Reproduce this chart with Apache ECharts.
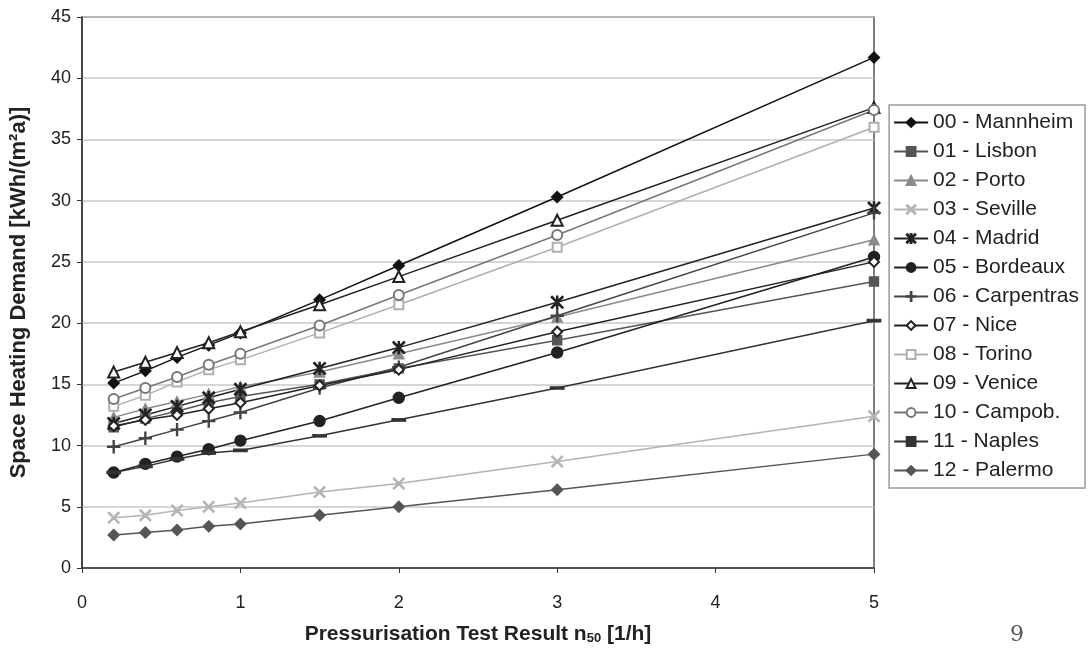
<!DOCTYPE html>
<html>
<head>
<meta charset="utf-8" />
<script src="https://cdn.jsdelivr.net/npm/echarts@6/dist/echarts.min.js"></script>
<style>
  html, body { margin: 0; padding: 0; background: #ffffff; }
  #chart { width: 1089px; height: 651px; }
</style>
</head>
<body>
<div id="chart"></div>
<script>
// n50 values (x)
const n50 = [0.2, 0.4, 0.6, 0.8, 1, 1.5, 2, 3, 5];

// space heating demand per city, kWh/(m²a)
const mannheim   = [15.1, 16.1, 17.2, 18.2, 19.2, 21.9, 24.7, 30.3, 41.7];
const lisbon     = [11.5, 12.2, 12.8, 13.5, 14.0, 15.0, 16.3, 18.6, 23.4];
const porto      = [12.3, 13.0, 13.6, 14.2, 14.8, 16.0, 17.5, 20.5, 26.8];
const seville    = [4.1, 4.3, 4.7, 5.0, 5.3, 6.2, 6.9, 8.7, 12.4];
const madrid     = [11.8, 12.5, 13.2, 13.9, 14.6, 16.3, 18.0, 21.7, 29.4];
const bordeaux   = [7.8, 8.5, 9.1, 9.7, 10.4, 12.0, 13.9, 17.6, 25.4];
const carpentras = [9.9, 10.6, 11.3, 12.0, 12.7, 14.7, 16.4, 20.6, 29.0];
const nice       = [11.6, 12.1, 12.5, 13.0, 13.5, 14.9, 16.2, 19.3, 25.0];
const torino     = [13.2, 14.1, 15.2, 16.2, 17.0, 19.2, 21.5, 26.2, 36.0];
const venice     = [16.0, 16.8, 17.6, 18.4, 19.3, 21.5, 23.8, 28.4, 37.6];
const campob     = [13.8, 14.7, 15.6, 16.6, 17.5, 19.8, 22.3, 27.2, 37.4];
const naples     = [7.8, 8.3, 8.9, 9.4, 9.6, 10.8, 12.1, 14.7, 20.2];
const palermo    = [2.7, 2.9, 3.1, 3.4, 3.6, 4.3, 5.0, 6.4, 9.3];

const yTicks = [0, 5, 10, 15, 20, 25, 30, 35, 40, 45];

// marker shapes
const xMark = "path://M0,1.5L1.5,0L10,8.5L18.5,0L20,1.5L11.5,10L20,18.5L18.5,20L10,11.5L1.5,20L0,18.5L8.5,10Z";
const starMark = xMark.replace("Z", "ZM9,0H11V20H9Z");
const plusMark = "path://M9.2,0H10.8V9.2H20V10.8H10.8V20H9.2V10.8H0V9.2H9.2Z";
const dashMark = "path://M0,0H10V3H0Z";

const mk = (name, data, color, symbol, size) => ({
  name,
  type: "line",
  data: data.map((v, i) => [n50[i], v]),
  symbol,
  symbolSize: size,
  showAllSymbol: true,
  lineStyle: { color, width: 1.5 },
  itemStyle: { color, borderColor: color, borderWidth: 1.4 },
  emphasis: { disabled: true },
  z: 2,
});

const series = [
  mk("00 - Mannheim", mannheim, "#111111", "diamond", 11),
  mk("01 - Lisbon", lisbon, "#555555", "rect", 9),
  mk("02 - Porto", porto, "#8a8a8a", "triangle", 10),
  mk("03 - Seville", seville, "#b4b4b4", xMark, 11),
  mk("04 - Madrid", madrid, "#222222", starMark, 12),
  mk("05 - Bordeaux", bordeaux, "#222222", "circle", 11),
  mk("06 - Carpentras", carpentras, "#444444", plusMark, 12),
  mk("07 - Nice", nice, "#222222", "emptyDiamond", 10),
  mk("08 - Torino", torino, "#b0b0b0", "emptyRect", 9),
  mk("09 - Venice", venice, "#222222", "emptyTriangle", 11),
  mk("10 - Campob.", campob, "#777777", "emptyCircle", 10),
  mk("11 - Naples", naples, "#333333", dashMark, [12, 3]),
  mk("12 - Palermo", palermo, "#555555", "diamond", 11),
];

const chart = echarts.init(document.getElementById("chart"));
chart.setOption({
  animation: false,
  backgroundColor: "#ffffff",
  textStyle: { fontFamily: "Liberation Sans, Arial, sans-serif" },
  grid: {
    left: 80, right: 215, top: 17, bottom: 83,
    show: true, borderColor: "#555555", borderWidth: 1.5,
  },
  legend: {
    orient: "vertical",
    right: 4,
    top: 105,
    padding: [7, 6, 7, 4],
    itemGap: 8,
    itemWidth: 34,
    itemHeight: 11,
    borderColor: "#999999",
    borderWidth: 1.5,
    backgroundColor: "#ffffff",
    textStyle: { fontSize: 21, color: "#222222", fontFamily: "Liberation Sans, Arial, sans-serif" },
    data: series.map((s) => s.name),
  },
  xAxis: {
    type: "value",
    min: 0,
    max: 5,
    interval: 1,
    name: "Pressurisation Test Result n{sub|50} [1/h]",
    nameLocation: "middle",
    nameGap: 55,
    nameTextStyle: {
      fontSize: 21, fontWeight: "bold", color: "#222222",
      rich: { sub: { fontSize: 13, fontWeight: "bold", verticalAlign: "bottom", padding: [9, 0, 0, 0] } },
    },
    axisLine: { lineStyle: { color: "#333333", width: 1.5 } },
    axisTick: { show: true, length: 5, lineStyle: { color: "#333333" } },
    axisLabel: { fontSize: 18, color: "#222222", margin: 26 },
    splitLine: { show: false },
  },
  yAxis: {
    type: "value",
    min: yTicks[0],
    max: yTicks[yTicks.length - 1],
    interval: 5,
    name: "Space Heating Demand [kWh/(m²a)]",
    nameLocation: "middle",
    nameGap: 52,
    nameTextStyle: { fontSize: 22, fontWeight: "bold", color: "#222222" },
    axisLine: { show: true, lineStyle: { color: "#333333", width: 1.5 } },
    axisTick: { show: true, length: 5, lineStyle: { color: "#333333" } },
    axisLabel: { fontSize: 18, color: "#222222", margin: 11 },
    splitLine: { show: true, lineStyle: { color: "#c8c8c8", width: 1.5 } },
  },
  graphic: [
    {
      type: "text",
      left: 1010,
      top: 624,
      style: { text: "9", fontSize: 22, fill: "#555555", fontFamily: "DejaVu Serif, Liberation Serif, serif" },
    },
  ],
  series,
});
</script>
</body>
</html>
